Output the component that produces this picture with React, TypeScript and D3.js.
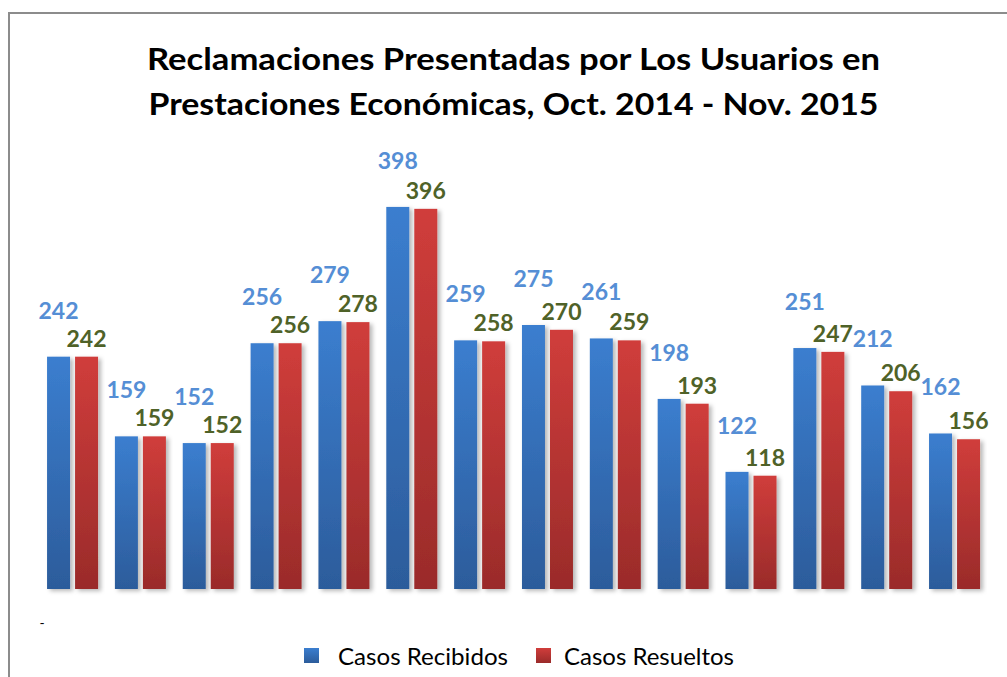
import * as d3 from "d3";

const months = [
  "Oct 2014", "Nov 2014", "Dic 2014", "Ene 2015", "Feb 2015", "Mar 2015", "Abr 2015",
  "May 2015", "Jun 2015", "Jul 2015", "Ago 2015", "Sep 2015", "Oct 2015", "Nov 2015",
];
const recibidos = [242, 159, 152, 256, 279, 398, 259, 275, 261, 198, 122, 251, 212, 162];
const resueltos = [242, 159, 152, 256, 278, 396, 258, 270, 259, 193, 118, 247, 206, 156];
const seriesNames = ["Casos Recibidos", "Casos Resueltos"];
const titleLines = [
  "Reclamaciones Presentadas por Los Usuarios en",
  "Prestaciones Económicas, Oct. 2014 - Nov. 2015",
];

const W = 1007;
const H = 677;
const font = "Lato, 'Open Sans', sans-serif";

export default function App() {
  const x = d3.scaleBand<string>().domain(months).range([38.6, 988.5]).paddingInner(0.247).paddingOuter(0.124);
  const barW = 23;
  const gap = 5;
  const y = d3.scaleLinear().domain([0, 400]).range([589, 205]);

  const series = [
    { name: seriesNames[0], values: recibidos, grad: "gBlue", label: "#558ed5", dx: 0, lift: 47 },
    { name: seriesNames[1], values: resueltos, grad: "gRed", label: "#4f6228", dx: barW + gap, lift: 19 },
  ];

  const groupW = barW * 2 + gap;
  const offset = (x.bandwidth() - groupW) / 2;

  return (
    <div style={{ position: "fixed", left: 0, top: 0 }}>
      <svg width={W} height={H} style={{ display: "block", background: "#fff" }}>
        <defs>
          <linearGradient id="gBlue" x1="0" x2="0" y1="0" y2="1">
            <stop offset="0%" stopColor="#3b7ecf" />
            <stop offset="100%" stopColor="#2c5c9b" />
          </linearGradient>
          <linearGradient id="gRed" x1="0" x2="0" y1="0" y2="1">
            <stop offset="0%" stopColor="#d03d3b" />
            <stop offset="100%" stopColor="#9a2b2a" />
          </linearGradient>
          <filter id="shadow" x="-30%" y="-10%" width="160%" height="120%">
            <feDropShadow dx="3" dy="2" stdDeviation="2" floodColor="#000" floodOpacity="0.28" />
          </filter>
        </defs>

        <rect x={9} y={13} width={W + 20} height={H + 20} fill="none" stroke="#8c8c8c" strokeWidth={2} />

        {titleLines.map((t, i) => (
          <text
            key={t}
            x={513.5}
            y={58 + i * 45}
            textAnchor="middle"
            dominantBaseline="central"
            fontFamily={font}
            fontWeight="bold"
            fontSize={31}
            textLength={i === 0 ? 733 : 730}
            lengthAdjust="spacingAndGlyphs"
            fill="#000"
          >
            {t}
          </text>
        ))}

        {series.map((s) => (
          <g key={s.name}>
            {s.values.map((v, i) => {
              const bx = (x(months[i]) ?? 0) + offset + s.dx;
              return (
                <rect
                  key={i}
                  x={bx}
                  y={y(v)}
                  width={barW}
                  height={y(0) - y(v)}
                  fill={`url(#${s.grad})`}
                  filter="url(#shadow)"
                />
              );
            })}
          </g>
        ))}

        {series.map((s) => (
          <g key={s.name + "-lbl"}>
            {s.values.map((v, i) => {
              const cx = (x(months[i]) ?? 0) + offset + s.dx + barW / 2;
              return (
                <text
                  key={i}
                  x={cx}
                  y={y(v) - s.lift}
                  textAnchor="middle"
                  dominantBaseline="central"
                  fontFamily={font}
                  fontWeight="bold"
                  fontSize={23}
                  fill={s.label}
                >
                  {v}
                </text>
              );
            })}
          </g>
        ))}

        <text x={42} y={622} fontFamily={font} fontSize={14} fill="#000" textAnchor="middle" dominantBaseline="central">
          -
        </text>

        {series.map((s, i) => {
          const lx = [304, 536][i];
          const tx = [338, 564][i];
          return (
            <g key={s.name + "-leg"}>
              <rect x={lx} y={648} width={15} height={15} fill={`url(#${s.grad})`} />
              <text
                x={tx}
                y={656}
                dominantBaseline="central"
                fontFamily={font}
                fontSize={23}
                textLength={170}
                lengthAdjust="spacingAndGlyphs"
                fill="#000"
              >
                {s.name}
              </text>
            </g>
          );
        })}
      </svg>
    </div>
  );
}
